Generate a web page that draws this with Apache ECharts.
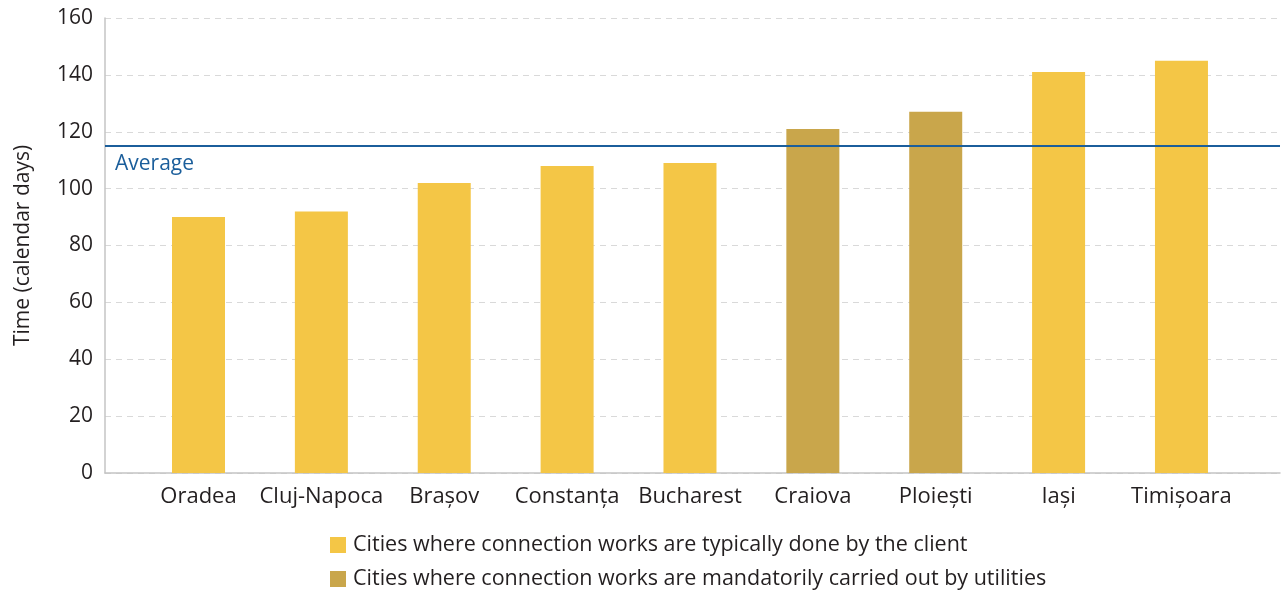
<!DOCTYPE html>
<html>
<head>
<meta charset="utf-8">
<style>
  html, body { margin: 0; padding: 0; background: #fff; }
  #chart { width: 1281px; height: 594px; }
</style>
<script src="https://cdn.jsdelivr.net/npm/echarts@6/dist/echarts.min.js"></script>
</head>
<body>
<div id="chart"></div>
<script>
// data
const cities = ["Oradea", "Cluj-Napoca", "Brașov", "Constanța", "Bucharest", "Craiova", "Ploiești", "Iași", "Timișoara"];
const clientDays = [90, 92, 102, 108, 109, null, null, 141, 145];
const utilityDays = [null, null, null, null, null, 121, 127, null, null];
const averageDays = 115;
const yTicks = [0, 20, 40, 60, 80, 100, 120, 140, 160];

const clientName = "Cities where connection works are typically done by the client";
const utilityName = "Cities where connection works are mandatorily carried out by utilities";

const font = "Open Sans";
const txt = "#231f20";
const positions = cities.map((c, i) => i);

function toPoints(vals) {
  return vals.map((v, i) => (v == null ? null : [i, v])).filter(p => p);
}

function legendRow(name, top) {
  return {
    left: 325,
    top: top,
    itemWidth: 16,
    itemHeight: 16,
    itemGap: 0,
    icon: "rect",
    textStyle: { color: txt, fontSize: 21.5, padding: [0, 0, 0, 2], fontFamily: font },
    data: [name],
  };
}

let myChart = echarts.init(document.getElementById("chart"), null, { renderer: "canvas" });
let option = {
  animation: false,
  textStyle: { fontFamily: font },
  grid: { left: 105, right: 1, top: 18, bottom: 121 },
  xAxis: {
    type: "value",
    min: -0.761,
    max: 8.802,
    splitLine: { show: false },
    axisTick: { show: false },
    axisLine: { lineStyle: { color: "#c4c4c4", width: 1.5 } },
    axisLabel: {
      customValues: positions,
      formatter: (v) => cities[Math.round(v)],
      color: txt,
      fontSize: 22,
      margin: 13,
      fontFamily: font,
    },
  },
  yAxis: {
    type: "value",
    min: 0,
    max: 160,
    interval: 20,
    name: "Time (calendar days)",
    nameLocation: "middle",
    nameGap: 71,
    nameTextStyle: { color: txt, fontSize: 21, fontFamily: font },
    axisLine: { show: true, onZero: false, lineStyle: { color: "#c4c4c4", width: 1.5 } },
    axisTick: { show: false },
    axisLabel: {
      customValues: yTicks,
      color: txt,
      fontSize: 21,
      margin: 12,
      fontFamily: font,
    },
    splitLine: { lineStyle: { color: "#d9d9d9", type: [6, 5], width: 1 } },
  },
  legend: [legendRow(clientName, 529), legendRow(utilityName, 563)],
  series: [
    {
      name: clientName,
      type: "bar",
      stack: "one",
      barWidth: 53,
      itemStyle: { color: "#f4c646" },
      data: toPoints(clientDays),
      markLine: {
        silent: true,
        symbol: "none",
        lineStyle: { color: "#1b5e9b", width: 2, type: "solid" },
        label: {
          position: "insideStartBottom",
          formatter: "Average",
          color: "#1b5e9b",
          fontSize: 21,
          distance: [10, 8],
          fontFamily: font,
        },
        data: [{ yAxis: averageDays }],
      },
    },
    {
      name: utilityName,
      type: "bar",
      stack: "one",
      barWidth: 53,
      itemStyle: { color: "#c9a64b" },
      data: toPoints(utilityDays),
    },
  ],
};
myChart.setOption(option);
</script>
</body>
</html>
